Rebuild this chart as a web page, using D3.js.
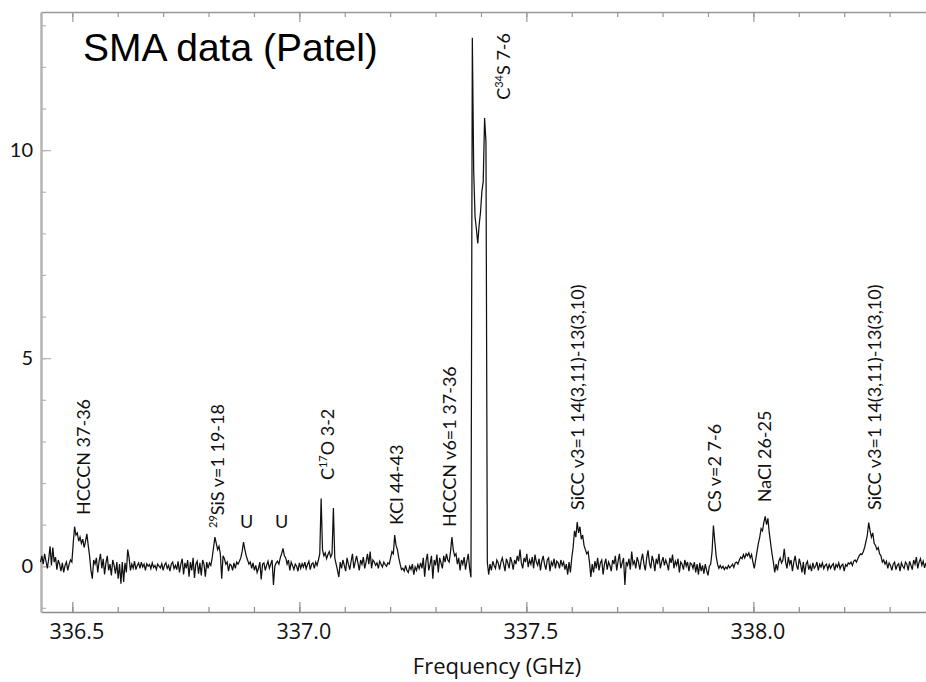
<!DOCTYPE html>
<html>
<head>
<meta charset="utf-8">
<script src="https://cdn.jsdelivr.net/npm/d3@7"></script>
<style>
  html, body { margin: 0; padding: 0; background: #fff; }
  svg { display: block; }
</style>
</head>
<body>
<div id="chart"></div>
<script>
// spectrum: first channel frequency and channel spacing (GHz)
const freqStart = 336.430;
const freqStep = 0.003;

// intensity per channel (20 channels per row)
const intensity = [
  0.10, 0.25, 0.05, 0.30, 0.12, -0.05, 0.18, 0.48, 0.02, 0.45, 0.10, 0.22, -0.08, 0.15, 0.05, -0.12, 0.08, -0.15, 0.02, 0.10,
  -0.10, 0.05, 0.15, 0.10, 0.55, 0.95, 0.75, 0.80, 0.60, 0.70, 0.55, 0.65, 0.45, 0.60, 0.78, 0.50, 0.25, -0.10, -0.30, 0.15,
  0.05, 0.20, -0.15, 0.12, 0.30, -0.05, 0.18, -0.20, 0.08, 0.25, -0.10, 0.05, -0.22, 0.15, 0.02, -0.18, 0.10, -0.30, 0.05, -0.42,
  0.10, -0.38, 0.08, -0.15, 0.40, 0.20, -0.10, 0.05, -0.05, 0.12, -0.08, 0.02, 0.08, -0.05, 0.10, -0.02, 0.05, -0.10, 0.06, 0.00,
  0.04, -0.06, 0.08, -0.03, 0.02, -0.08, 0.05, 0.00, -0.04, 0.06, -0.10, 0.03, 0.08, -0.05, 0.02, -0.12, 0.05, 0.10, -0.06, 0.02,
  -0.08, 0.12, -0.15, 0.05, 0.18, -0.20, 0.08, -0.05, 0.15, -0.25, 0.10, -0.10, 0.20, -0.28, 0.05, 0.12, -0.18, 0.08, -0.22, 0.15,
  0.05, -0.25, 0.10, -0.05, 0.08, 0.02, 0.20, 0.45, 0.70, 0.55, 0.40, 0.48, 0.30, -0.30, 0.25, 0.18, 0.05, 0.10, -0.12, 0.05,
  0.02, -0.10, 0.08, -0.05, 0.10, 0.05, 0.12, 0.20, 0.35, 0.58, 0.40, 0.25, 0.15, 0.05, 0.10, -0.05, 0.08, -0.10, 0.02, -0.15,
  -0.05, 0.10, -0.32, 0.05, 0.08, -0.10, 0.02, 0.12, -0.05, 0.05, 0.15, -0.45, 0.00, 0.08, 0.12, 0.05, 0.20, 0.30, 0.43, 0.25,
  0.20, 0.05, 0.15, -0.10, 0.10, 0.02, -0.08, 0.05, 0.00, -0.12, 0.08, -0.05, 0.06, -0.02, 0.10, -0.06, 0.04, 0.12, -0.08, 0.05,
  0.08, -0.05, 0.10, 0.02, 0.15, 0.30, 1.63, 0.40, 0.25, 0.32, 0.18, 0.28, 0.35, 0.22, 0.30, 1.40, 0.20, 0.05, -0.10, -0.26,
  0.10, -0.05, 0.15, 0.02, -0.12, 0.20, 0.05, -0.08, 0.12, 0.30, -0.05, 0.10, 0.25, 0.08, -0.10, 0.15, 0.05, 0.22, -0.05, 0.10,
  0.30, 0.05, 0.35, -0.05, 0.15, 0.10, 0.02, 0.08, -0.05, 0.12, 0.05, -0.02, 0.10, 0.04, 0.00, 0.08, 0.05, 0.20, 0.35, 0.30,
  0.75, 0.50, 0.40, 0.20, 0.05, -0.08, -0.05, -0.12, 0.02, -0.10, -0.15, 0.00, -0.08, 0.05, -0.20, -0.02, -0.10, 0.04, -0.06, 0.08,
  -0.05, 0.20, -0.25, 0.12, 0.30, -0.10, 0.05, 0.25, -0.30, 0.15, 0.02, 0.28, -0.15, 0.20, 0.08, -0.05, 0.25, 0.10, 0.30, 0.15,
  0.10, 0.35, 0.70, 0.40, 0.25, 0.30, 0.05, 0.20, -0.10, 0.15, 0.05, 0.22, -0.08, 0.12, 0.30, -0.05, -0.27, 12.70, 9.50, 8.40,
  8.10, 7.76, 8.20, 8.50, 9.00, 9.25, 10.77, 10.20, 0.10, -0.20, 0.05, -0.10, 0.12, 0.02, -0.05, 0.15, 0.08, -0.08, 0.10, 0.20,
  0.05, -0.12, 0.18, 0.08, -0.05, 0.22, 0.10, -0.08, 0.15, 0.05, 0.25, 0.12, 0.40, 0.08, -0.05, 0.20, 0.10, 0.30, -0.02, 0.15,
  0.05, 0.22, -0.05, 0.28, 0.10, 0.02, 0.18, -0.10, 0.12, 0.25, 0.05, -0.08, 0.15, 0.20, -0.12, 0.10, 0.02, 0.18, -0.05, 0.12,
  0.08, -0.05, 0.15, 0.02, 0.10, -0.08, 0.05, -0.20, 0.10, -0.15, 0.20, 0.45, 0.85, 0.70, 1.06, 0.80, 0.95, 0.65, 0.75, 0.50,
  0.40, 0.30, 0.35, 0.10, -0.26, 0.05, -0.15, 0.12, -0.05, 0.20, -0.10, 0.08, 0.15, -0.20, 0.05, 0.18, -0.08, 0.10, 0.02, -0.12,
  0.15, 0.05, 0.25, -0.10, 0.12, 0.30, -0.05, 0.08, 0.20, -0.45, 0.10, 0.02, 0.18, -0.08, 0.35, 0.05, 0.12, -0.05, 0.22, 0.10,
  -0.08, 0.15, 0.30, 0.05, -0.10, 0.20, 0.38, 0.08, -0.05, 0.25, 0.12, -0.12, 0.18, 0.05, 0.30, -0.05, 0.10, 0.22, 0.02, 0.15,
  0.05, -0.10, 0.20, 0.08, 0.28, -0.05, 0.12, 0.02, 0.18, -0.15, 0.10, 0.05, -0.08, 0.15, 0.00, 0.10, -0.12, 0.08, 0.05, -0.05,
  0.10, -0.15, 0.05, -0.20, 0.08, -0.12, 0.02, -0.18, 0.05, -0.10, -0.22, 0.00, 0.05, 0.35, 0.98, 0.60, 0.25, 0.05, -0.05, 0.02,
  -0.05, 0.00, -0.08, -0.02, -0.06, 0.02, -0.04, 0.00, 0.05, -0.03, 0.08, 0.10, 0.05, 0.15, 0.22, 0.18, 0.28, 0.20, 0.30, 0.25,
  0.32, 0.20, 0.28, 0.10, -0.05, 0.15, 0.35, 0.55, 0.70, 0.90, 0.85, 1.05, 1.20, 1.00, 1.15, 0.80, 0.55, 0.30, 0.10, -0.15,
  0.05, -0.10, 0.12, 0.20, 0.08, 0.15, 0.42, 0.10, -0.05, 0.22, 0.05, 0.15, -0.12, 0.10, 0.25, 0.02, -0.08, 0.18, 0.05, -0.15,
  0.10, -0.20, 0.05, 0.12, -0.08, 0.02, -0.12, 0.08, -0.05, 0.00, 0.10, -0.10, 0.05, -0.02, 0.08, -0.06, 0.02, 0.05, -0.08, 0.04,
  -0.05, 0.02, 0.06, -0.10, 0.04, -0.02, 0.08, -0.06, 0.02, 0.05, -0.12, 0.04, 0.00, 0.08, 0.05, 0.10, 0.02, 0.12, 0.15, 0.10,
  0.18, 0.25, 0.30, 0.28, 0.35, 0.45, 0.60, 0.75, 1.05, 0.85, 0.70, 0.80, 0.55, 0.50, 0.40, 0.45, 0.30, 0.25, 0.10, 0.15,
  0.05, 0.12, -0.05, 0.08, 0.02, -0.10, 0.05, 0.10, -0.08, 0.02, 0.06, -0.12, 0.08, 0.00, -0.05, 0.10, 0.05, -0.10, 0.12, 0.02,
  -0.08, 0.15, 0.05, 0.22, -0.05, 0.10, 0.18, 0.02, 0.12, -0.04, 0.08
];

// line identifications: text (^..^ = superscript), frequency, intensity at label foot
const labelText = ['HCCCN 37-36', '^29^SiS v=1 19-18', 'U', 'U', 'C^17^O 3-2', 'KCl 44-43',
  'HCCCN v6=1 37-36', 'C^34^S 7-6', 'SiCC v3=1 14(3,11)-13(3,10)', 'CS v=2 7-6', 'NaCl 26-25',
  'SiCC v3=1 14(3,11)-13(3,10)'];
const labelFreq = [336.524, 336.821, 336.884, 336.961, 337.063, 337.215, 337.332, 337.451,
  337.614, 337.915, 338.025, 338.267];
const labelBase = [1.23, 0.92, 0.92, 0.92, 2.07, 0.99, 0.94, 11.21, 1.35, 1.30, 1.54, 1.35];
const labelUpright = [false, false, true, true, false, false, false, false, false, false, false, false];

const xMajorTicks = [336.5, 337.0, 337.5, 338.0];
const xMinorTicks = [336.5, 336.6, 336.7, 336.8, 336.9, 337.0, 337.1, 337.2, 337.3, 337.4,
  337.5, 337.6, 337.7, 337.8, 337.9, 338.0, 338.1, 338.2, 338.3];
const yMajorTicks = [0, 5, 10];
const yMinorTicks = [-1, 0, 1, 2, 3, 4, 5, 6, 7, 8, 9, 10, 11, 12, 13];

const width = 926, height = 682;
const x = d3.scaleLinear().domain([336.431, 338.389]).range([41, 930]);
const y = d3.scaleLinear().domain([-1.1, 13.32]).range([612, 12]);

const svg = d3.select('#chart').append('svg')
  .attr('width', width)
  .attr('height', height);

function styleAxis(g, color, width) {
  g.select('.domain').attr('stroke', color).attr('stroke-width', width);
  g.selectAll('.tick line').attr('stroke', color).attr('stroke-width', 1.2);
}

// minor ticks
svg.append('g').attr('transform', `translate(0,${y.range()[0]})`)
  .call(d3.axisBottom(x).tickValues(xMinorTicks).tickSize(-5).tickSizeOuter(0).tickFormat(''))
  .call(g => styleAxis(g, '#8c8c8c', 1.5));
svg.append('g').attr('transform', `translate(0,${y.range()[1]})`)
  .call(d3.axisTop(x).tickValues(xMinorTicks).tickSize(-5).tickSizeOuter(0).tickFormat(''))
  .call(g => styleAxis(g, '#999', 1.5));
svg.append('g').attr('transform', `translate(${x.range()[0]},0)`)
  .call(d3.axisLeft(y).tickValues(yMinorTicks).tickSize(-5).tickSizeOuter(0).tickFormat(''))
  .call(g => styleAxis(g, '#b3b3b3', 2.5));

// major ticks with labels
svg.append('g').attr('transform', `translate(0,${y.range()[0]})`)
  .call(d3.axisBottom(x).tickValues(xMajorTicks).tickSize(-10).tickSizeOuter(0).tickPadding(12).tickFormat(d3.format('.1f')))
  .call(g => g.select('.domain').remove())
  .call(g => styleAxis(g, '#8c8c8c', 1.5))
  .call(g => g.selectAll('text')
    .attr('dx', 4)
    .attr('fill', '#111')
    .style('font-family', '"Open Sans", sans-serif')
    .style('font-size', '21.5px'));
svg.append('g').attr('transform', `translate(0,${y.range()[1]})`)
  .call(d3.axisTop(x).tickValues(xMajorTicks).tickSize(-10).tickSizeOuter(0).tickFormat(''))
  .call(g => g.select('.domain').remove())
  .call(g => styleAxis(g, '#999', 1.5));
svg.append('g').attr('transform', `translate(${x.range()[0]},0)`)
  .call(d3.axisLeft(y).tickValues(yMajorTicks).tickSize(-10).tickSizeOuter(0).tickPadding(8))
  .call(g => g.select('.domain').remove())
  .call(g => styleAxis(g, '#b3b3b3', 2.5))
  .call(g => g.selectAll('text')
    .attr('fill', '#111')
    .style('font-family', 'Lato, sans-serif')
    .style('font-size', '20px'));

svg.append('text')
  .attr('x', 497)
  .attr('y', 674)
  .attr('text-anchor', 'middle')
  .attr('fill', '#111')
  .style('font-family', '"Open Sans", sans-serif')
  .style('font-size', '22px')
  .text('Frequency (GHz)');

// spectrum
const line = d3.line()
  .x((d, i) => x(freqStart + i * freqStep))
  .y(d => y(d));

svg.append('path')
  .datum(intensity)
  .attr('fill', 'none')
  .attr('stroke', '#111')
  .attr('stroke-width', 1.25)
  .attr('stroke-linejoin', 'miter')
  .attr('d', line);

// line labels
const labelSize = 18;
const labels = svg.append('g')
  .style('font-family', 'Lato, sans-serif')
  .style('font-size', labelSize + 'px')
  .attr('fill', '#111');

labelText.forEach((t, i) => {
  const px = x(labelFreq[i]);
  const py = y(labelBase[i]);
  const text = labels.append('text')
    .attr('transform', labelUpright[i]
      ? `translate(${px},${py})`
      : `translate(${px + labelSize * 0.35},${py}) rotate(-90)`)
    .attr('text-anchor', labelUpright[i] ? 'middle' : 'start');
  let shifted = false;
  t.split('^').forEach((part, k) => {
    if (!part) return;
    const sup = k % 2 === 1;
    const span = text.append('tspan').text(part);
    if (sup) {
      span.attr('dy', -7).style('font-size', '11px');
      shifted = true;
    } else if (shifted) {
      span.attr('dy', 7);
      shifted = false;
    }
  });
});

svg.append('text')
  .attr('x', 83)
  .attr('y', 61)
  .attr('fill', '#000')
  .style('font-family', '"Liberation Sans", Arial, sans-serif')
  .style('font-size', '39px')
  .text('SMA data (Patel)');
</script>
</body>
</html>
